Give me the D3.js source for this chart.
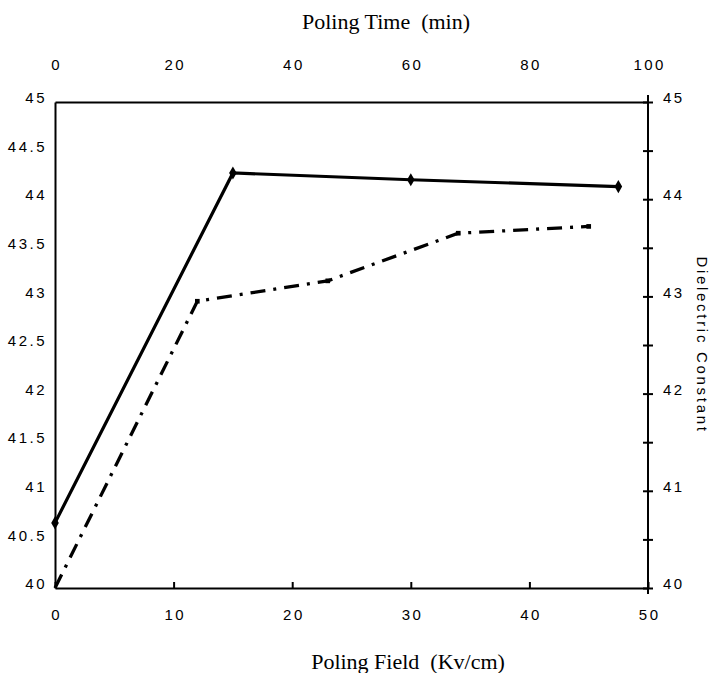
<!DOCTYPE html>
<html>
<head>
<meta charset="utf-8">
<script src="https://cdn.jsdelivr.net/npm/d3@7"></script>
<style>
  html, body { margin: 0; padding: 0; background: #fff; }
  svg { display: block; }
  .tick text { font-family: "Liberation Sans", Arial, sans-serif; font-size: 15px; letter-spacing: 2.5px; fill: #000; }
</style>
</head>
<body>
<svg id="chart" width="713" height="673"></svg>
<script>
// ---- data ----
const poleTime = [0, 30, 60, 95];                 // min (top axis)
const dielectricVsTime = [40.67, 44.27, 44.2, 44.13]; // right axis
const poleField = [0, 12, 23, 34, 45];             // kV/cm (bottom axis)
const dielectricVsField = [40, 42.95, 43.16, 43.65, 43.72]; // left axis
const fieldTicks = [0, 10, 20, 30, 40, 50];
const timeTicks = [0, 20, 40, 60, 80, 100];
const leftTicks = [40, 40.5, 41, 41.5, 42, 42.5, 43, 43.5, 44, 44.5, 45];
const rightTicks = [40, 40.5, 41, 41.5, 42, 42.5, 43, 43.5, 44, 44.5, 45];
const topTitle = "Poling Time  (min)";
const bottomTitle = "Poling Field  (Kv/cm)";
const rightTitle = "Dielectric Constant";

const svg = d3.select("#chart");
const L = 55, R = 648, T = 102, B = 588;

const xField = d3.scaleLinear().domain([0, 50]).range([L, R]);
const xTime = d3.scaleLinear().domain([0, 100]).range([L, R]);
const yLeft = d3.scaleLinear().domain([40, 45]).range([B, T]);
const yRight = d3.scaleLinear().domain([40, 45]).range([B, T]);

svg.append("rect").attr("width", 713).attr("height", 673).attr("fill", "#fff");

// bottom axis
const gB = svg.append("g").attr("transform", `translate(0,${B})`)
  .call(d3.axisBottom(xField).tickValues(fieldTicks).tickSizeInner(-6).tickSizeOuter(0).tickPadding(21).tickFormat(d3.format("d")));
gB.selectAll("text").attr("dx", "1.2px");

// top axis
const gT = svg.append("g").attr("transform", `translate(0,${T})`)
  .call(d3.axisTop(xTime).tickValues(timeTicks).tickSize(0).tickPadding(32).tickFormat(d3.format("d")));
gT.selectAll("text").attr("dx", "1.2px");

// left axis
const gL = svg.append("g").attr("transform", `translate(${L},0)`)
  .call(d3.axisLeft(yLeft).tickValues(leftTicks).tickSize(0).tickPadding(8).tickFormat(d => d3.format("")(d)));
gL.selectAll("text").attr("dy", "0.05em");

// right axis
const gR = svg.append("g").attr("transform", `translate(${R},0)`)
  .call(d3.axisRight(yRight).tickValues(rightTicks).tickSizeInner(5).tickSizeOuter(0).tickPadding(10)
    .tickFormat(d => Number.isInteger(d) ? String(d) : ""));
gR.selectAll(".tick line").attr("x1", -5).attr("x2", 5);
gR.selectAll("text").attr("dy", "0.05em");
gR.select(".domain").remove();
gR.append("line").attr("x1", 0).attr("x2", 0)
  .attr("y1", yRight.range()[1] - 7).attr("y2", yRight.range()[0] + 6);

svg.selectAll(".domain, .tick line, g > line").attr("stroke", "#000").attr("stroke-width", 2);

// titles
svg.append("text").attr("x", 386).attr("y", 29).attr("text-anchor", "middle")
  .attr("font-family", "'Liberation Serif', 'Times New Roman', serif").attr("font-size", 22)
  .style("white-space", "pre").text(topTitle);
svg.append("text").attr("x", 408).attr("y", 669).attr("text-anchor", "middle")
  .attr("font-family", "'Liberation Serif', 'Times New Roman', serif").attr("font-size", 22)
  .style("white-space", "pre").text(bottomTitle);
svg.append("text").attr("transform", "translate(697,345) rotate(90)").attr("text-anchor", "middle")
  .attr("font-family", "'Liberation Sans', Arial, sans-serif").attr("font-size", 15)
  .attr("letter-spacing", "2.7px").text(rightTitle);

// solid series (time vs dielectric)
const timeData = poleTime.map((t, i) => ({ x: t, y: dielectricVsTime[i] }));
svg.append("path").datum(timeData)
  .attr("fill", "none").attr("stroke", "#000").attr("stroke-width", 3.2)
  .attr("d", d3.line().x(d => xTime(d.x)).y(d => yRight(d.y)));
svg.selectAll(".diamond").data(timeData).enter().append("path")
  .attr("class", "diamond")
  .attr("transform", d => `translate(${xTime(d.x)},${yRight(d.y)})`)
  .attr("d", d3.symbol(d3.symbolDiamond).size(50)).attr("fill", "#000");

// dash-dot series (field vs dielectric)
const fieldData = poleField.map((f, i) => ({ x: f, y: dielectricVsField[i] }));
svg.append("path").datum(fieldData)
  .attr("fill", "none").attr("stroke", "#000").attr("stroke-width", 3.3)
  .attr("stroke-dasharray", "15,8,3,8")
  .attr("d", d3.line().x(d => xField(d.x)).y(d => yLeft(d.y)));
svg.selectAll(".sq").data(fieldData.slice(1)).enter().append("path")
  .attr("class", "sq")
  .attr("transform", d => `translate(${xField(d.x)},${yLeft(d.y)})`)
  .attr("d", d3.symbol(d3.symbolSquare).size(22)).attr("fill", "#000");
</script>
</body>
</html>
